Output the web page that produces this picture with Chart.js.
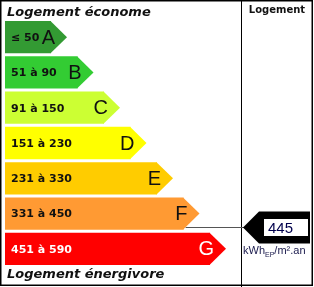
<!DOCTYPE html>
<html>
<head>
<meta charset="utf-8">
<script src="https://cdn.jsdelivr.net/npm/chart.js@4"></script>
<style>
  html, body { margin: 0; padding: 0; background: #fff; }
  #wrap { position: relative; width: 314px; height: 287px; }
</style>
</head>
<body>
<div id="wrap"><canvas id="dpe"></canvas></div>
<script>
// classes et seuils (kWhEP/m².an)
const classes = ["A", "B", "C", "D", "E", "F", "G"];
const ranges = ["≤ 50", "51 à 90", "91 à 150", "151 à 230", "231 à 330", "331 à 450", "451 à 590"];
const lowBounds = [0, 51, 91, 151, 231, 331, 451];
const highBounds = [50, 90, 150, 230, 330, 450, 590];
const classRank = [1, 2, 3, 4, 5, 6, 7];
const colors = ["#339a33", "#33cc33", "#ccff33", "#ffff00", "#ffcc00", "#ff9a33", "#ff0000"];
const textColors = ["#111", "#111", "#111", "#111", "#111", "#111", "#fff"];
const consumption = 445;

const TIP = 16;
const X_MIN = -0.736;

const dpePlugin = {
  id: "dpe",
  afterDatasetsDraw(chart) {
    const ctx = chart.ctx;
    const meta = chart.getDatasetMeta(0);
    ctx.save();
    meta.data.forEach((bar, i) => {
      const half = bar.height / 2;
      // pointe de la fleche
      ctx.fillStyle = colors[i];
      ctx.beginPath();
      ctx.moveTo(bar.x - 0.5, bar.y - half);
      ctx.lineTo(bar.x + TIP, bar.y);
      ctx.lineTo(bar.x - 0.5, bar.y + half);
      ctx.closePath();
      ctx.fill();

      ctx.fillStyle = textColors[i];
      ctx.textBaseline = "middle";
      ctx.textAlign = "left";
      ctx.font = "bold 11px 'DejaVu Sans'";
      ctx.fillText(ranges[i], bar.base + 6, bar.y + 1);

      ctx.textAlign = "right";
      ctx.font = "20px 'Liberation Sans'";
      ctx.fillText(classes[i], bar.x + TIP - 12, bar.y + 1);
    });

    // titres
    ctx.fillStyle = "#111";
    ctx.textAlign = "left";
    ctx.textBaseline = "alphabetic";
    ctx.font = "italic bold 13px 'DejaVu Sans'";
    ctx.fillText("Logement économe", 7, 16);
    ctx.fillText("Logement énergivore", 7, 278);

    // colonne de droite
    ctx.strokeStyle = "#000";
    ctx.lineWidth = 1;
    ctx.beginPath();
    ctx.moveTo(241.5, 0);
    ctx.lineTo(241.5, 287);
    ctx.stroke();
    ctx.lineWidth = 1.5;
    ctx.strokeRect(0.75, 0.75, 311.5, 284.5);

    ctx.font = "bold 10px 'DejaVu Sans'";
    ctx.textAlign = "center";
    ctx.fillText("Logement", 277, 13);

    // indicateur, place dans la classe selon la valeur
    const idx = highBounds.findIndex(h => consumption <= h);
    const cur = meta.data[idx];
    const frac = (consumption - lowBounds[idx]) / (highBounds[idx] - lowBounds[idx]);
    const top = cur.y - cur.height / 2;
    const y = Math.floor(top + frac * cur.height) - 0.5;
    const dy = Math.abs(y - cur.y) / (cur.height / 2);
    ctx.strokeStyle = "#555";
    ctx.lineWidth = 1;
    ctx.beginPath();
    ctx.moveTo(cur.x + TIP * (1 - dy), y);
    ctx.lineTo(244, y);
    ctx.stroke();

    ctx.fillStyle = "#000";
    ctx.beginPath();
    ctx.moveTo(243, y);
    ctx.lineTo(259, y - 16);
    ctx.lineTo(310, y - 16);
    ctx.lineTo(310, y + 16);
    ctx.lineTo(259, y + 16);
    ctx.closePath();
    ctx.fill();
    ctx.fillStyle = "#fff";
    ctx.fillRect(264, y - 8.5, 44, 17);

    ctx.fillStyle = "#00004d";
    ctx.textAlign = "left";
    ctx.textBaseline = "middle";
    ctx.font = "15px 'Liberation Sans'";
    ctx.fillText(String(consumption), 268, y + 1);

    ctx.fillStyle = "#1a1a4d";
    ctx.textBaseline = "alphabetic";
    ctx.font = "11px 'Liberation Sans'";
    let x = 243;
    ctx.fillText("kWh", x, 254);
    x += ctx.measureText("kWh").width;
    ctx.font = "7px 'Liberation Sans'";
    ctx.fillText("EP", x, 257);
    x += ctx.measureText("EP").width;
    ctx.font = "11px 'Liberation Sans'";
    ctx.fillText("/m².an", x, 254);
    ctx.restore();
  }
};

new Chart(document.getElementById("dpe"), {
  type: "bar",
  data: {
    labels: classes,
    datasets: [{
      data: classRank,
      base: X_MIN,
      backgroundColor: colors,
      borderWidth: 0,
      barPercentage: 32 / 35,
      categoryPercentage: 1
    }]
  },
  options: {
    indexAxis: "y",
    responsive: true,
    maintainAspectRatio: false,
    animation: false,
    events: [],
    layout: { padding: { left: 5, right: 74, top: 19.5, bottom: 20.5 } },
    plugins: { legend: { display: false }, tooltip: { enabled: false } },
    scales: {
      x: { display: false, min: X_MIN, max: 8.132 },
      y: { display: false }
    }
  },
  plugins: [dpePlugin]
});
</script>
</body>
</html>
